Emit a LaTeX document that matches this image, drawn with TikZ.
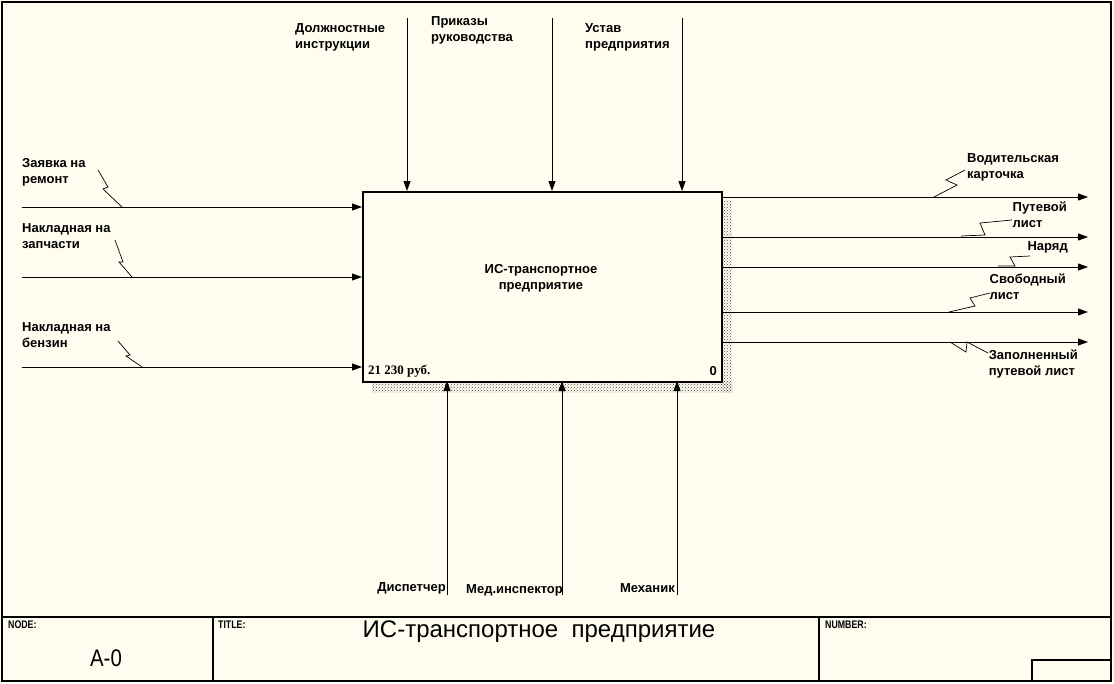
\documentclass[tikz,border=0pt]{standalone}
\usepackage{fontspec}
\setmainfont{Liberation Sans}
\newfontfamily\serifx{Liberation Serif}
\usetikzlibrary{arrows.meta,calc,patterns}
\definecolor{bg}{HTML}{FFFDF0}
\begin{document}
\begin{tikzpicture}[x=1pt,y=-1pt,
  lbl/.style={font=\bfseries\fontsize{13}{16}\selectfont,align=left,inner sep=0pt},
  small/.style={font=\bfseries\fontsize{11}{12}\selectfont,inner sep=0,anchor=north west,xscale=0.8},
  arr/.style={-{Triangle[length=10pt,width=7pt]},line width=0.9pt},
  sq/.style={line width=0.7pt}]
\useasboundingbox (0,0) rectangle (1114,683);
\fill[bg] (0,0) rectangle (1114,683);
\draw[line width=1.3pt] (2,2) rectangle (1111,681);
\draw[line width=1.2pt] (2,617) -- (1111,617);
\draw[line width=1.2pt] (213,617) -- (213,681) (819,617) -- (819,681);
\draw[line width=1.2pt] (1032,681) |- (1111,660);
\node[small] (nd) at (8,621) {NODE:};
\node[small] (tt) at (218,621) {TITLE:};
\node[small] (nb) at (825,621) {NUMBER:};
\node[font=\fontsize{24}{28}\selectfont,inner sep=0,xscale=0.85] (a0) at (106,658) {A-0};
\node[font=\fontsize{24}{28}\selectfont,inner sep=0] (ti) at (539,632) {ИС-транспортное\ \ предприятие};
% shadow
\fill[pattern=crosshatch dots,pattern color=black!70] (721,200) rectangle (732,392);
\fill[pattern=crosshatch dots,pattern color=black!70] (372,381) rectangle (732,392);
\node[draw,line width=1.8pt,fill=bg,minimum width=359pt,minimum height=190pt,inner sep=0,anchor=north west] (box) at (362,191) {};
\node[lbl,align=center] (bt) at (541,278) {ИС-транспортное\\предприятие};
\node[font=\bfseries\fontsize{13}{13}\selectfont\serifx,anchor=west,inner sep=0] (cost) at (368,371) {21 230 руб.};
\node[font=\bfseries\fontsize{13}{13}\selectfont,anchor=east,inner sep=0] (zero) at (717,371) {0};
% inputs
\foreach \n/\y in {i1/207,i2/277,i3/367}{\coordinate (\n s) at (22,\y); \coordinate (\n e) at (362,\y); \draw[arr] (\n s) -- (\n e);}
\node[lbl,anchor=north west] (l1) at (22,158) {Заявка на\\ремонт};
\node[lbl,anchor=north west] (l2) at (22,223) {Накладная на\\запчасти};
\node[lbl,anchor=north west] (l3) at (22,322) {Накладная на\\бензин};
\draw[sq] (98,170) -- (108,187) -- (103,189) -- (122,207);
\draw[sq] (115,240) -- (123,262) -- (119,262) -- (132,277);
\draw[sq] (118,341) -- (130,355) -- (126,356) -- (142,367);
% controls
\foreach \n/\x in {c1/407,c2/552,c3/682}{\coordinate (\n s) at (\x,18); \coordinate (\n e) at (\x,191); \draw[arr] (\n s) -- (\n e);}
\node[lbl,anchor=north west] (lc1) at (295,23) {Должностные\\инструкции};
\node[lbl,anchor=north west] (lc2) at (431,16) {Приказы\\руководства};
\node[lbl,anchor=north west] (lc3) at (585,23) {Устав\\предприятия};
% outputs
\foreach \n/\y in {o1/197,o2/237,o3/267,o4/312,o5/342}{\coordinate (\n s) at (721,\y); \coordinate (\n e) at (1088,\y); \draw[arr] (\n s) -- (\n e);}
\node[lbl,anchor=north west] (lo1) at (967,153) {Водительская\\карточка};
\node[lbl,anchor=north east] (lo2) at (1067,202) {Путевой\\лист};
\node[lbl,anchor=north east] (lo3) at (1068,241) {Наряд};
\node[lbl,anchor=north east] (lo4) at (1066,274) {Свободный\\лист};
\node[lbl,anchor=north east] (lo5) at (1078,350) {Заполненный\\путевой лист};
\draw[sq] (934,197) -- (957,185) -- (946,180) -- (965,170);
\draw[sq] (961,236) -- (985,235) -- (980,223) -- (1012,220);
\draw[sq] (998,266) -- (1015,266) -- (1010,257) -- (1030,256);
\draw[sq] (949,312) -- (975,306) -- (970,298) -- (990,293);
\draw[sq] (950,342) -- (966,352) -- (967,342) -- (988,353);
% mechanisms
\foreach \n/\x in {m1/447,m2/562,m3/677}{\coordinate (\n s) at (\x,595); \coordinate (\n e) at (\x,381); \draw[arr] (\n s) -- (\n e);}
\node[lbl,anchor=east] (lm1) at (446,588) {Диспетчер};
\node[lbl,anchor=west] (lm2) at (466,590) {Мед.инспектор};
\node[lbl,anchor=east] (lm3) at (675,588) {Механик};
\end{tikzpicture}
\end{document}
